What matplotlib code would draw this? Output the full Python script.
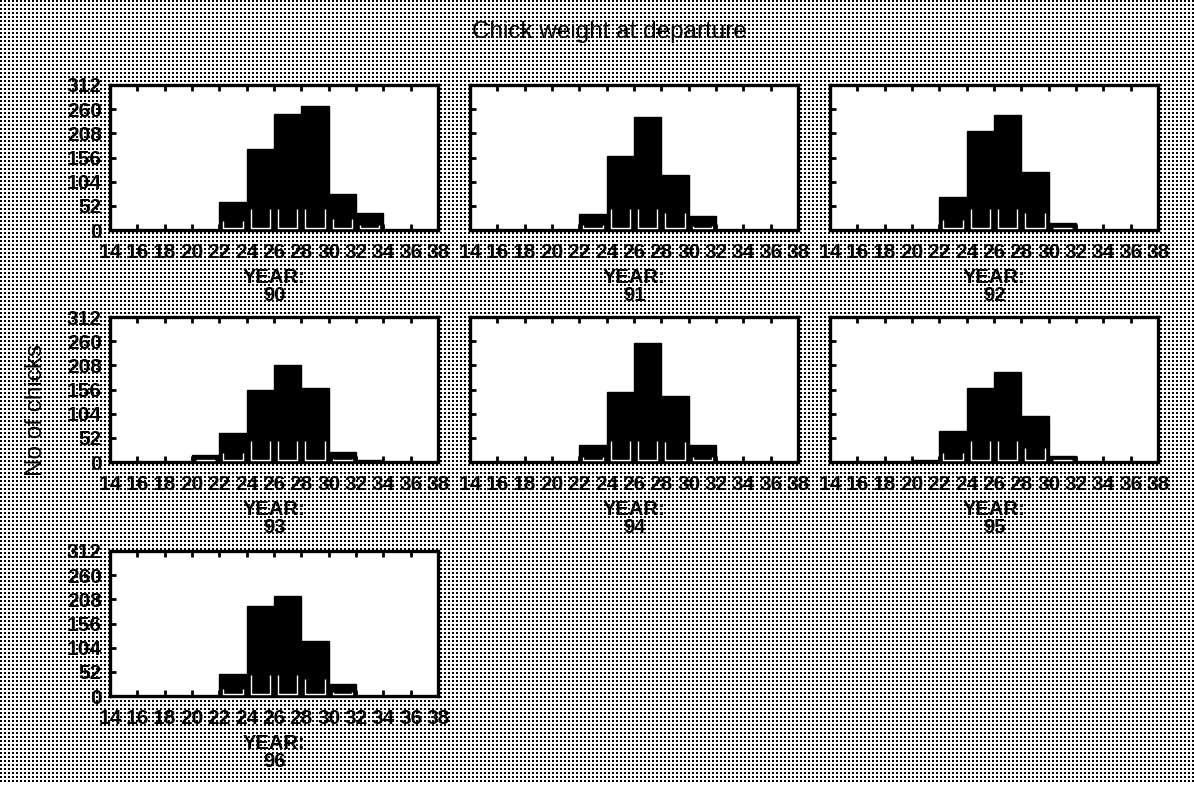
import numpy as np
import matplotlib
matplotlib.use("Agg")
import matplotlib.pyplot as plt

# weight classes (g), bins 2 g wide from 14 to 38
bin_edges = np.arange(14, 40, 2)
years = ["90", "91", "92", "93", "94", "95", "96"]

# number of chicks per weight class, one list per year
counts_90 = [0, 0, 0, 0, 61, 174, 249, 266, 78, 36, 0, 0]
counts_91 = [0, 0, 0, 0, 35, 160, 243, 119, 31, 0, 0, 0]
counts_92 = [0, 0, 0, 0, 72, 214, 248, 125, 16, 0, 0, 0]
counts_93 = [0, 0, 0, 14, 63, 156, 208, 160, 22, 5, 0, 0]
counts_94 = [0, 0, 0, 0, 36, 150, 255, 143, 36, 0, 0, 0]
counts_95 = [0, 0, 0, 5, 66, 160, 194, 98, 13, 0, 0, 0]
counts_96 = [0, 0, 0, 0, 48, 193, 216, 119, 26, 0, 0, 0]
all_counts = [counts_90, counts_91, counts_92, counts_93, counts_94, counts_95, counts_96]

y_ticks = [0, 52, 104, 156, 208, 260, 312]

W, H = 1194, 789
fig = plt.figure(figsize=(W / 100, H / 100), dpi=100)

# stippled grey page background
bg = np.ones((H, W, 3))
yy, xx = np.mgrid[0:H, 0:W]
dots = (xx % 4 < 2) & (yy % 4 < 2)
bg[dots] = 0.0
bg[H - 6:, :] = 1.0
fig.figimage(bg, xo=0, yo=0, zorder=-10)

font = "Liberation Sans"
fs = 15
col_left = [110, 470, 830]
row_top = [85, 317, 551]
ax_w, ax_h = 328, 145

for i, (year, counts) in enumerate(zip(years, all_counts)):
    r, c = divmod(i, 3)
    left = col_left[c] / W
    bottom = 1 - (row_top[r] + ax_h) / H
    ax = fig.add_axes([left, bottom, ax_w / W, ax_h / H])
    ax.set_facecolor("white")

    counts = np.array(counts)
    starts = bin_edges[:-1]
    ax.bar(starts, counts, width=2, align="edge", color="black",
           edgecolor="black", linewidth=1, zorder=2)
    # light inner rim left by the stipple fill
    for x0, h in zip(starts, counts):
        if h <= 8:
            continue
        top = min(h * 0.3, 45, h - 5)
        ax.plot([x0 + 0.3, x0 + 0.3, x0 + 1.7, x0 + 1.7],
                [top, 5, 5, top], color="white", lw=1.0, zorder=3,
                solid_capstyle="butt")

    ax.set_xlim(14, 38)
    ax.set_ylim(0, 312)
    ax.set_xticks(bin_edges)
    ax.set_yticks(y_ticks)
    ax.tick_params(direction="in", length=4, width=2, top=True, bottom=True,
                   left=True, right=False)
    ax.tick_params(axis="x", pad=9)
    ax.tick_params(axis="y", pad=6)
    for sp in ax.spines.values():
        sp.set_linewidth(2.4)
    ax.set_xticklabels([str(v) for v in bin_edges], fontsize=fs,
                       fontweight="bold", family=font)
    if c == 0:
        ax.set_yticklabels([str(v) for v in y_ticks], fontsize=fs,
                           fontweight="bold", family=font)
    else:
        ax.set_yticklabels([])
    ax.set_xlabel("YEAR:\n" + year, fontsize=fs - 0.5, fontweight="bold",
                  family=font, linespacing=0.9, labelpad=5)

fig.text(609 / W, 1 - 32 / H, "Chick weight at departure", ha="center",
         va="center", fontsize=17.5, family=font)
fig.text(36 / W, 1 - 410 / H, "No of chicks", ha="center", va="center",
         rotation=90, fontsize=17.5, family=font)

fig.savefig("out.png", dpi=100)
